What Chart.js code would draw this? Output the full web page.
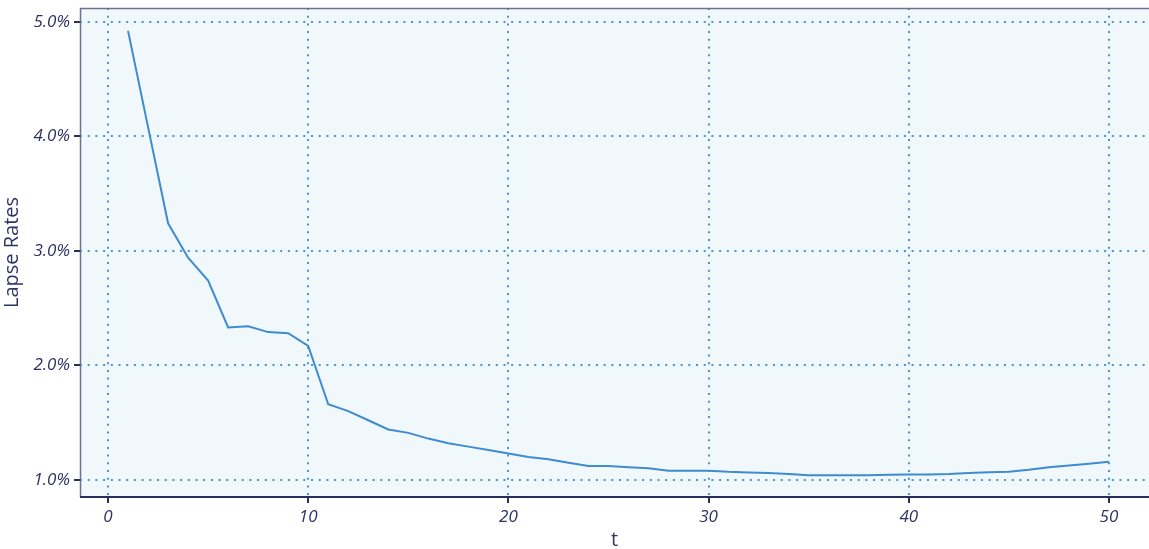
<!DOCTYPE html>
<html>
<head>
<meta charset="utf-8">
<script src="https://cdn.jsdelivr.net/npm/chart.js@4.4.1/dist/chart.umd.min.js"></script>
<style>
  html, body { margin: 0; padding: 0; background: #ffffff; }
  #wrap { width: 1149px; height: 549px; position: relative; }
</style>
</head>
<body>
<div id="wrap"><canvas id="c" width="1149" height="549"></canvas></div>
<script>
const tValues = [1,2,3,4,5,6,7,8,9,10,11,12,13,14,15,16,17,18,19,20,21,22,23,24,25,26,27,28,29,30,31,32,33,34,35,36,37,38,39,40,41,42,43,44,45,46,47,48,49,50];
const lapseRates = [4.92,4.08,3.24,2.94,2.74,2.33,2.34,2.29,2.28,2.17,1.66,1.60,1.52,1.44,1.41,1.36,1.32,1.29,1.26,1.23,1.20,1.18,1.15,1.12,1.12,1.11,1.10,1.08,1.08,1.08,1.07,1.065,1.06,1.05,1.04,1.04,1.04,1.04,1.045,1.046,1.046,1.05,1.06,1.067,1.07,1.087,1.11,1.125,1.14,1.157];
const xTicks = [0,10,20,30,40,50];
const yTicks = [1,2,3,4,5];

const bgPlugin = {
  id: 'bg',
  beforeDraw(chart) {
    const {ctx, chartArea: a} = chart;
    ctx.save();
    ctx.fillStyle = '#f1f8fc';
    ctx.fillRect(a.left, a.top, a.right - a.left, a.bottom - a.top);
    ctx.restore();
  },
  afterDraw(chart) {
    const {ctx, chartArea: a} = chart;
    ctx.save();
    ctx.setLineDash([]);
    ctx.strokeStyle = '#6b6f90';
    ctx.lineWidth = 1.5;
    ctx.beginPath();
    ctx.moveTo(a.right, a.top + 0.5);
    ctx.lineTo(a.left + 0.5, a.top + 0.5);
    ctx.lineTo(a.left + 0.5, a.bottom);
    ctx.stroke();
    ctx.strokeStyle = '#2a2d5c';
    ctx.lineWidth = 2;
    ctx.beginPath();
    ctx.moveTo(a.left, a.bottom);
    ctx.lineTo(a.right, a.bottom);
    ctx.stroke();
    ctx.restore();
  }
};

const fontFamily = "'Open Sans', 'Noto Sans', sans-serif";
const gridOpts = {
  color: '#4a92d2',
  lineWidth: 2,
  drawTicks: true,
  tickLength: 6,
  tickColor: '#2a2d5c',
  tickWidth: 2,
  tickBorderDash: []
};

new Chart(document.getElementById('c'), {
  type: 'line',
  data: {
    datasets: [{
      data: tValues.map((t, i) => ({x: t, y: lapseRates[i]})),
      borderColor: '#3d8bd0',
      borderWidth: 2,
      pointRadius: 0,
      tension: 0,
      fill: false
    }]
  },
  options: {
    responsive: false,
    animation: false,
    layout: { padding: { top: 8, right: 0, left: 0, bottom: 0 } },
    plugins: { legend: { display: false }, tooltip: { enabled: false } },
    scales: {
      x: {
        type: 'linear',
        min: -1.4,
        max: 52,
        afterBuildTicks(s) { s.ticks = xTicks.map(v => ({value: v})); },
        afterFit(s) { s.height = 52; s.paddingLeft = 0; s.paddingRight = 0; },
        grid: gridOpts,
        border: { display: false, dash: [2, 5.7] },
        ticks: {
          color: '#2e3263',
          font: { family: fontFamily, size: 17, style: 'italic' },
          padding: 4,
          maxRotation: 0,
          callback: v => String(v)
        },
        title: {
          display: true,
          text: 't',
          color: '#2e3566',
          font: { family: fontFamily, size: 20 },
          padding: { top: 0, bottom: -3 }
        }
      },
      y: {
        type: 'linear',
        min: 0.85,
        max: 5.12,
        afterBuildTicks(s) { s.ticks = yTicks.map(v => ({value: v})); },
        afterFit(s) { s.width = 80; s.paddingTop = 0; s.paddingBottom = 0; },
        grid: gridOpts,
        border: { display: false, dash: [2, 5.7] },
        ticks: {
          color: '#2e3263',
          font: { family: fontFamily, size: 17, style: 'italic' },
          padding: 4,
          callback: v => v.toFixed(1) + '%'
        },
        title: {
          display: true,
          text: 'Lapse Rates',
          color: '#2e3566',
          font: { family: fontFamily, size: 20 },
          padding: { top: 0, bottom: 2 }
        }
      }
    }
  },
  plugins: [bgPlugin]
});
</script>
</body>
</html>
